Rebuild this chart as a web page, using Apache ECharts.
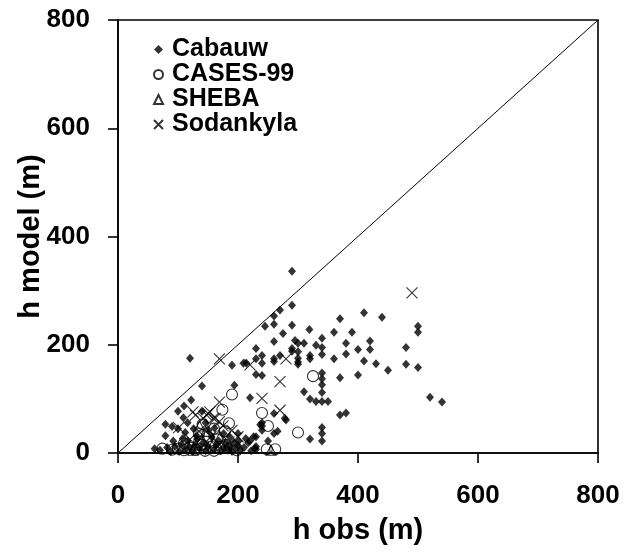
<!DOCTYPE html>
<html>
<head>
<meta charset="utf-8">
<script src="https://cdn.jsdelivr.net/npm/echarts@6/dist/echarts.min.js"></script>
<style>
  html, body { margin: 0; padding: 0; background: #fff; }
  #chart { width: 628px; height: 559px; }
</style>
</head>
<body>
<div id="chart"></div>
<script>
// values: [h obs, h model] in metres
const cabauw = [
  [290, 336], [290, 273], [270, 264], [260, 253], [410, 259], [370, 248], [440, 251],
  [245, 234], [260, 238], [290, 236], [319, 228], [275, 221], [360, 223], [390, 223],
  [500, 234], [500, 223], [420, 207], [260, 206], [295, 208], [300, 203], [310, 203],
  [340, 212], [330, 199], [340, 195], [380, 203], [400, 191], [420, 191], [480, 195],
  [230, 193], [240, 180], [230, 174], [270, 180], [260, 174], [260, 169], [290, 193],
  [290, 188], [300, 187], [300, 175], [300, 168], [300, 164], [320, 180], [320, 174],
  [340, 182], [360, 174], [380, 183], [410, 170], [430, 165], [450, 153], [480, 164],
  [500, 158], [400, 144], [520, 103], [540, 94], [209, 166], [214, 166], [240, 166],
  [190, 162], [230, 145], [240, 143], [340, 148], [340, 137], [340, 126], [340, 112],
  [340, 95], [330, 95], [350, 95], [320, 100], [310, 113], [370, 139], [370, 70],
  [380, 74], [140, 124], [194, 125], [220, 102], [260, 73], [280, 61], [240, 56],
  [240, 50], [240, 42], [260, 36], [200, 36], [340, 47], [340, 36], [340, 22],
  [320, 26], [220, 22], [230, 30], [230, 7], [120, 175], [122, 98], [110, 87],
  [100, 77], [140, 77], [109, 65], [79, 53], [90, 49], [79, 32], [100, 45], [61, 8],
  [237, 52], [278, 64], [226, 30], [217, 19], [228, 9], [230, 12], [250, 22],
  [70, 5], [82, 10], [88, 3], [95, 12], [102, 3], [106, 16], [112, 6], [116, 22],
  [119, 11], [124, 3], [128, 14], [132, 26], [136, 8], [141, 18], [146, 4], [150, 12],
  [156, 30], [160, 6], [164, 15], [168, 22], [171, 4], [176, 10], [179, 18], [183, 5],
  [186, 12], [190, 3], [193, 20], [197, 8], [200, 14], [204, 5], [112, 38], [126, 45],
  [131, 32], [151, 42], [116, 56], [161, 46], [92, 22], [108, 27], [146, 56],
  [176, 36], [186, 30], [201, 22], [210, 10], [213, 27], [222, 4], [266, 40]
];
const cases99 = [
  [325, 142], [190, 108], [174, 80], [240, 74], [250, 50], [300, 38], [141, 53],
  [248, 7], [262, 7], [74, 8], [90, 6], [100, 8], [110, 5], [120, 10], [130, 6],
  [140, 15], [145, 4], [155, 12], [160, 4], [165, 25], [170, 8], [180, 15], [150, 30],
  [135, 36], [160, 45], [178, 40], [185, 55], [198, 5], [135, 20], [110, 18]
];
const sheba = [
  [255, 5], [130, 15], [140, 26], [150, 10], [160, 20], [146, 40], [170, 30],
  [125, 5], [182, 10], [136, 50]
];
const sodankyla = [
  [490, 296], [169, 174], [220, 163], [280, 174], [270, 132], [240, 101], [270, 79],
  [169, 94], [150, 73], [159, 64], [169, 58], [190, 42], [129, 70], [148, 70],
  [101, 47], [125, 76], [153, 76], [142, 64], [162, 64], [175, 50], [135, 40],
  [155, 30], [185, 20], [120, 25], [200, 30]
];
const oneToOne = [[0, 0], [800, 800]];

const FONT = '"Liberation Sans", Arial, Helvetica, sans-serif';
const CROSS = 'path://M0,0L10,10M10,0L0,10';

const chart = echarts.init(document.getElementById('chart'));

const axisCommon = {
  type: 'value',
  min: 0,
  max: 800,
  interval: 200,
  nameLocation: 'middle',
  nameMoveOverlap: false,
  nameTextStyle: { fontFamily: FONT, fontWeight: 'bold', fontSize: 29, color: '#000' },
  axisLine: { show: true, lineStyle: { color: '#000', width: 1.6 } },
  axisTick: { show: true, inside: false, length: 10, lineStyle: { color: '#000', width: 1.6 } },
  axisLabel: { fontFamily: FONT, fontWeight: 'bold', fontSize: 26, color: '#000', margin: 28 },
  splitLine: { show: false }
}

const openMark = {
  color: 'transparent',
  borderColor: '#000',
  borderWidth: 1.1
}

const option = {
  animation: false,
  backgroundColor: '#fff',
  grid: {
    left: 118,
    right: 30,
    top: 20,
    bottom: 106,
    show: true,
    borderColor: '#000',
    borderWidth: 1.6
  },
  legend: {
    orient: 'vertical',
    left: 148,
    top: 32,
    itemWidth: 9,
    itemHeight: 9,
    itemGap: 0,
    textStyle: {
      fontFamily: FONT,
      fontWeight: 'bold',
      fontSize: 25,
      color: '#000',
      padding: [0, 0, 0, 4]
    },
    data: [
      { name: 'Cabauw', icon: 'diamond' },
      { name: 'CASES-99', icon: 'circle' },
      { name: 'SHEBA', icon: 'triangle' },
      { name: 'Sodankyla', icon: CROSS }
    ]
  },
  xAxis: Object.assign({}, axisCommon, {
    name: 'h obs (m)',
    nameGap: 63,
    axisLabel: Object.assign({}, axisCommon.axisLabel, { margin: 30 })
  }),
  yAxis: Object.assign({}, axisCommon, { name: 'h model (m)', nameGap: 73 }),
  series: [
    {
      name: '1:1',
      type: 'line',
      data: oneToOne,
      symbol: 'none',
      silent: true,
      lineStyle: { color: '#000', width: 1 }
    },
    {
      name: 'Cabauw',
      type: 'scatter',
      symbol: 'diamond',
      symbolSize: [8, 9],
      itemStyle: { color: '#000' },
      data: cabauw
    },
    {
      name: 'CASES-99',
      type: 'scatter',
      symbol: 'circle',
      symbolSize: 11,
      itemStyle: openMark,
      data: cases99
    },
    {
      name: 'SHEBA',
      type: 'scatter',
      symbol: 'triangle',
      symbolSize: 10,
      itemStyle: openMark,
      data: sheba
    },
    {
      name: 'Sodankyla',
      type: 'scatter',
      symbol: CROSS,
      symbolSize: 11,
      itemStyle: openMark,
      data: sodankyla
    }
  ]
}

chart.setOption(option)
</script>
</body>
</html>
